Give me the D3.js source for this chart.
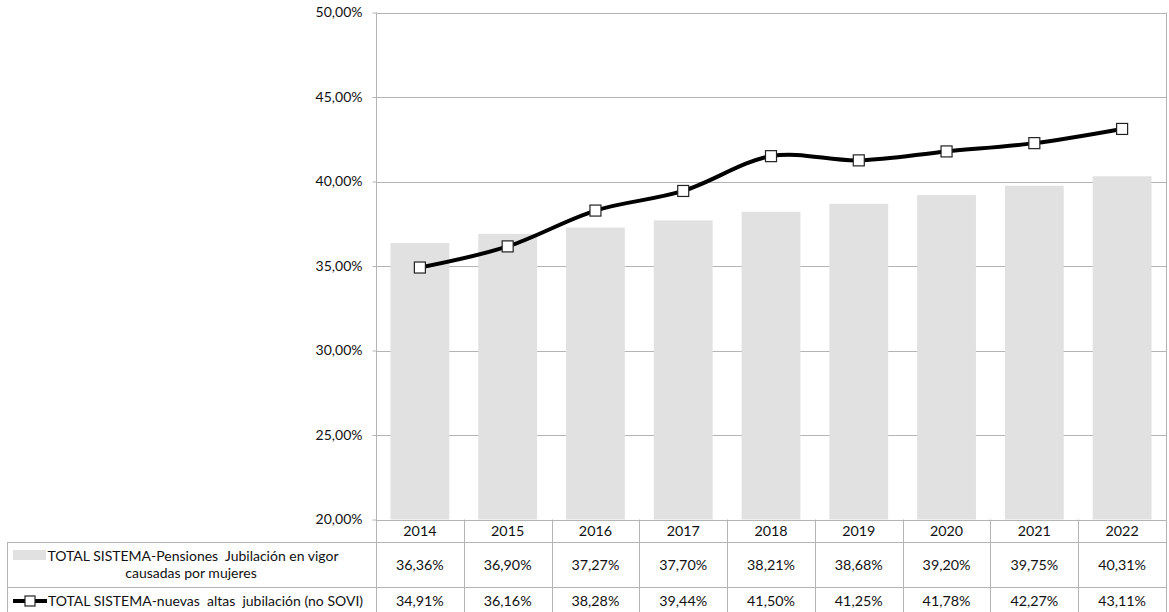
<!DOCTYPE html>
<html>
<head>
<meta charset="utf-8">
<script src="https://cdn.jsdelivr.net/npm/d3@7"></script>
<style>
  html, body { margin: 0; padding: 0; background: #fff; }
  svg { display: block; font-family: Lato, "Open Sans", sans-serif; }
  .label { white-space: pre; }
</style>
</head>
<body>
<svg id="chart" width="1169" height="612"></svg>
<script>
// Share of women in retirement pensions, total system
const years = ["2014", "2015", "2016", "2017", "2018", "2019", "2020", "2021", "2022"];
const pensionesVigor = [36.36, 36.90, 37.27, 37.70, 38.21, 38.68, 39.20, 39.75, 40.31];
const nuevasAltas = [34.91, 36.16, 38.28, 39.44, 41.50, 41.25, 41.78, 42.27, 43.11];
const yTicks = [20, 25, 30, 35, 40, 45, 50];
const seriesBarName = ["TOTAL SISTEMA-Pensiones  Jubilación en vigor", "causadas por mujeres"];
const seriesLineName = "TOTAL SISTEMA-nuevas  altas  jubilación (no SOVI)";

const fmt = v => v.toFixed(2).replace(".", ",") + "%";

const svg = d3.select("#chart");
const plotLeft = 376, plotRight = 1166, plotTop = 12.5, plotBottom = 519.5;
const tableLeft = 7;
const rowTops = [plotBottom, 542.5, 587.5, 612];
const textColor = "#111";

const x = d3.scaleBand().domain(years).range([plotLeft, plotRight]).paddingInner(0.33).paddingOuter(0.165);
const y = d3.scaleLinear().domain([20, 50]).range([plotBottom, plotTop]);
const step = x.step();

// horizontal gridlines
svg.append("g")
  .selectAll("line")
  .data(yTicks)
  .join("line")
  .attr("x1", plotLeft).attr("x2", plotRight)
  .attr("y1", d => Math.round(y(d)) + 0.5).attr("y2", d => Math.round(y(d)) + 0.5)
  .attr("stroke", "#b4b4b4").attr("stroke-width", 1);

// bars
svg.append("g")
  .selectAll("rect")
  .data(years)
  .join("rect")
  .attr("x", d => x(d))
  .attr("width", x.bandwidth())
  .attr("y", (d, i) => y(pensionesVigor[i]))
  .attr("height", (d, i) => y(20) - y(pensionesVigor[i]))
  .attr("fill", "#e1e1e1");

// y axis
const yAxis = d3.axisLeft(y).tickValues(yTicks).tickSize(4).tickPadding(10).tickFormat(fmt);
const gy = svg.append("g").attr("transform", `translate(${plotLeft + 0.5},0)`).call(yAxis);
gy.select(".domain").remove();
gy.selectAll(".tick line").attr("stroke", "#b4b4b4");
gy.selectAll(".tick text").attr("font-size", 14).attr("fill", textColor).attr("font-family", "Lato");

// line series with smoothing
const pts = years.map((d, i) => [x(d) + x.bandwidth() / 2, y(nuevasAltas[i])]);
svg.append("path")
  .attr("d", d3.line().curve(d3.curveCatmullRom.alpha(0))(pts))
  .attr("fill", "none").attr("stroke", "#000").attr("stroke-width", 4)
  .attr("stroke-linejoin", "round");

svg.append("g")
  .selectAll("rect")
  .data(pts)
  .join("rect")
  .attr("x", d => d[0] - 5.5).attr("y", d => d[1] - 5.5)
  .attr("width", 11).attr("height", 11)
  .attr("fill", "#fff").attr("stroke", "#222").attr("stroke-width", 1.2);

// data table grid
const grid = svg.append("g").attr("stroke", "#b4b4b4").attr("stroke-width", 1);
grid.append("line").attr("x1", plotLeft + 0.5).attr("x2", plotLeft + 0.5).attr("y1", plotTop).attr("y2", 612);
grid.append("line").attr("x1", tableLeft + 0.5).attr("x2", tableLeft + 0.5).attr("y1", rowTops[1]).attr("y2", 612);
grid.append("line").attr("x1", plotRight + 0.5).attr("x2", plotRight + 0.5).attr("y1", plotTop).attr("y2", 612);
grid.selectAll(".col")
  .data(years.slice(1))
  .join("line")
  .attr("x1", d => Math.round(x(d) - (step - x.bandwidth()) / 2) + 0.5)
  .attr("x2", d => Math.round(x(d) - (step - x.bandwidth()) / 2) + 0.5)
  .attr("y1", plotBottom).attr("y2", 612);
grid.append("line").attr("x1", tableLeft).attr("x2", plotRight).attr("y1", rowTops[1]).attr("y2", rowTops[1]);
grid.append("line").attr("x1", tableLeft).attr("x2", plotRight).attr("y1", rowTops[2]).attr("y2", rowTops[2]);

// table text
const tt = svg.append("g").attr("font-size", 14.3).attr("fill", textColor).attr("text-anchor", "middle");
const cx = d => x(d) + x.bandwidth() / 2;
tt.selectAll(".yr").data(years).join("text")
  .attr("x", cx).attr("y", (rowTops[0] + rowTops[1]) / 2).attr("dy", "0.35em").text(d => d);
tt.selectAll(".v1").data(years).join("text")
  .attr("x", cx).attr("y", (rowTops[1] + rowTops[2]) / 2).attr("dy", "0.35em")
  .text((d, i) => fmt(pensionesVigor[i]));
tt.selectAll(".v2").data(years).join("text")
  .attr("x", cx).attr("y", (rowTops[2] + rowTops[3]) / 2 + 1).attr("dy", "0.35em")
  .text((d, i) => fmt(nuevasAltas[i]));

// series labels with legend keys
const lab = svg.append("g").attr("font-size", 14).attr("fill", textColor);
lab.append("rect").attr("x", 13).attr("y", 550).attr("width", 33).attr("height", 10).attr("fill", "#e1e1e1");
lab.append("text").attr("class", "label").attr("x", 193).attr("y", 556).attr("dy", "0.35em").attr("text-anchor", "middle").text(seriesBarName[0]);
lab.append("text").attr("class", "label").attr("x", 191).attr("y", 573).attr("dy", "0.35em").attr("text-anchor", "middle").text(seriesBarName[1]);

lab.append("line").attr("x1", 13).attr("x2", 47).attr("y1", 601).attr("y2", 601).attr("stroke", "#000").attr("stroke-width", 4);
lab.append("rect").attr("x", 25).attr("y", 596).attr("width", 10).attr("height", 10)
  .attr("fill", "#fff").attr("stroke", "#222").attr("stroke-width", 1.2);
lab.append("text").attr("class", "label").attr("x", 48).attr("y", 601).attr("dy", "0.35em").text(seriesLineName);
</script>
</body>
</html>
